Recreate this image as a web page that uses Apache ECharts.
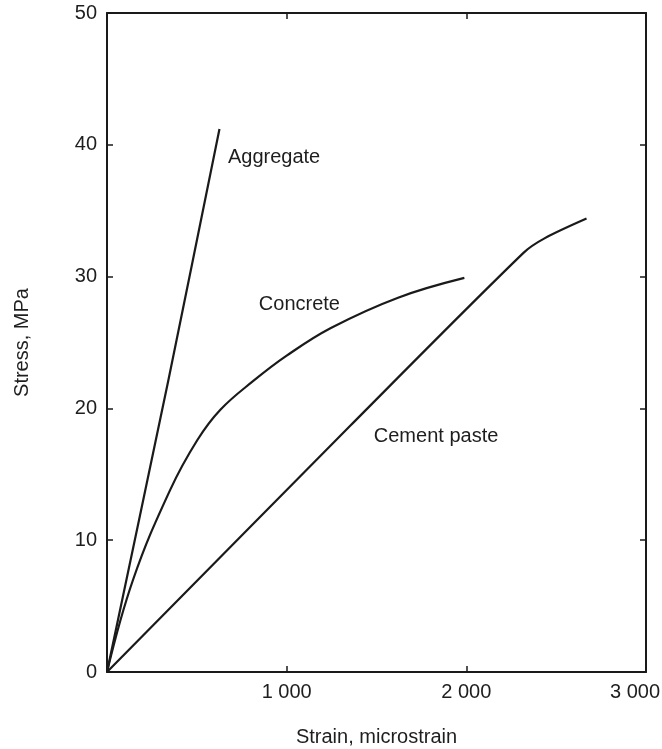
<!DOCTYPE html>
<html>
<head>
<meta charset="utf-8">
<script src="https://cdn.jsdelivr.net/npm/echarts@6/dist/echarts.min.js"></script>
<style>
  html, body { margin: 0; padding: 0; background: #fff; }
  #chart { width: 662px; height: 749px; }
</style>
</head>
<body>
<div id="chart"></div>
<script>
// strain in microstrain, stress in MPa
const aggregateStrain = [0, 341, 626];
const aggregateStress = [0, 22.1, 41.2];

const concreteStrain = [0, 145, 351, 503, 631, 816, 1000, 1246, 1620, 1989];
const concreteStress = [0, 7.0, 13.8, 17.6, 19.9, 22.1, 24.0, 26.1, 28.4, 29.9];

const pasteStrain = [0, 1355, 2318, 2435, 2669];
const pasteStress = [0, 18.7, 31.8, 32.9, 34.4];

const labelNames = ['Aggregate', 'Concrete', 'Cement paste'];
const labelStrain = [673, 845, 1485];
const labelStress = [39.0, 27.9, 17.9];

const xTicks = [0, 1000, 2000, 3000];
const yTicks = [0, 10, 20, 30, 40, 50];

const pair = (xs, ys) => xs.map((x, i) => [x, ys[i]]);
const fmtThousands = v => String(v).replace(/\B(?=(\d{3})+(?!\d))/g, ' ');
const xMax = xTicks[xTicks.length - 1];

const chart = echarts.init(document.getElementById('chart'));
const lineColor = '#1a1a1a';
const textColor = '#1e1e1e';
const font = 'Liberation Sans, Arial, sans-serif';

function axisBase() {
  return {
    type: 'value',
    axisLine: { show: true, onZero: false, lineStyle: { color: lineColor, width: 2 } },
    axisTick: { show: true, inside: true, length: 6, lineStyle: { color: lineColor, width: 1.5 } },
    splitLine: { show: false }
  };
}

const curve = (name, data, smooth) => ({
  name,
  type: 'line',
  data,
  smooth,
  showSymbol: false,
  symbol: 'none',
  lineStyle: { color: lineColor, width: 2.2 },
  xAxisIndex: 0,
  yAxisIndex: 0
});

chart.setOption({
  backgroundColor: '#fff',
  animation: false,
  grid: { left: 107, right: 16, top: 13, bottom: 77, containLabel: false, outerBoundsMode: 'none' },
  xAxis: [
    Object.assign(axisBase(), {
      position: 'bottom',
      min: xTicks[0], max: xMax, interval: 1000,
      name: 'Strain, microstrain',
      nameLocation: 'middle',
      nameGap: 55,
      nameTextStyle: { fontFamily: font, fontSize: 20, color: textColor },
      axisLabel: {
        margin: 10, fontFamily: font, fontSize: 20, color: textColor,
        // last label sits a bit left of its tick, as in the figure
        formatter: v => (v === 0 ? '' : v === xMax ? '{last|' + fmtThousands(v) + '}' : fmtThousands(v)),
        rich: {
          last: { fontFamily: font, fontSize: 20, color: textColor, padding: [0, 22, 0, 0] }
        }
      }
    }),
    Object.assign(axisBase(), {
      position: 'top',
      min: xTicks[0], max: xMax, interval: 1000,
      axisLabel: { show: false }
    })
  ],
  yAxis: [
    Object.assign(axisBase(), {
      position: 'left',
      min: yTicks[0], max: yTicks[yTicks.length - 1], interval: 10,
      name: 'Stress, MPa',
      nameLocation: 'middle',
      nameGap: 75,
      nameRotate: 90,
      nameTextStyle: { fontFamily: font, fontSize: 20, color: textColor },
      axisLabel: { margin: 10, fontFamily: font, fontSize: 20, color: textColor }
    }),
    Object.assign(axisBase(), {
      position: 'right',
      min: yTicks[0], max: yTicks[yTicks.length - 1], interval: 10,
      axisLabel: { show: false }
    })
  ],
  series: [
    curve('Aggregate', pair(aggregateStrain, aggregateStress), 0.2),
    curve('Concrete', pair(concreteStrain, concreteStress), 0.4),
    curve('Cement paste', pair(pasteStrain, pasteStress), 0.3),
    {
      // curve names written inside the plot
      type: 'scatter',
      symbolSize: 0,
      silent: true,
      itemStyle: { opacity: 1 },
      data: labelNames.map((n, i) => ({ name: n, value: [labelStrain[i], labelStress[i]] })),
      label: {
        show: true,
        position: 'right',
        distance: 0,
        opacity: 1,
        formatter: p => p.name,
        fontFamily: font,
        fontSize: 20,
        color: textColor
      }
    }
  ]
});
</script>
</body>
</html>
